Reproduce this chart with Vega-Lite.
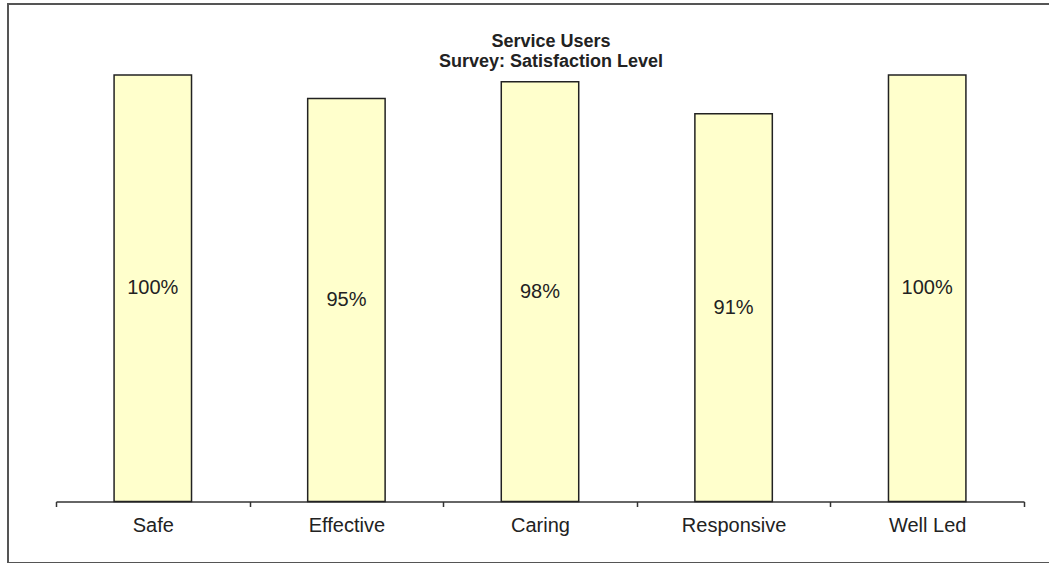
{
  "$schema": "https://vega.github.io/schema/vega-lite/v6.json",
  "autosize": "none",
  "width": 1043,
  "height": 559,
  "padding": {"left": 8, "top": 4, "right": 0, "bottom": 0},
  "background": "white",
  "config": {
    "font": "Liberation Sans",
    "view": {"stroke": "#555555", "strokeWidth": 2}
  },
  "title": {
    "text": ["Service Users", "Survey: Satisfaction Level"],
    "fontSize": 18,
    "fontWeight": "bold",
    "color": "#222222",
    "lineHeight": 20,
    "anchor": "start",
    "frame": "group",
    "baseline": "top",
    "offset": -27,
    "dx": 543,
    "dy": 40,
    "align": "center"
  },
  "data": {
    "values": [
      {"item": "Safe", "value": 1.0, "label": "100%"},
      {"item": "Effective", "value": 0.945, "label": "95%"},
      {"item": "Caring", "value": 0.984, "label": "98%"},
      {"item": "Responsive", "value": 0.909, "label": "91%"},
      {"item": "Well Led", "value": 1.0, "label": "100%"}
    ]
  },
  "encoding": {
    "x": {
      "field": "item",
      "type": "nominal",
      "sort": null,
      "scale": {"range": [48, 1016], "paddingInner": 0, "paddingOuter": 0},
      "axis": {
        "orient": "bottom",
        "offset": -61.5,
        "title": null,
        "labelAngle": 0,
        "labelFontSize": 20,
        "labelColor": "#222222",
        "labelPadding": 9,
        "tickSize": 5,
        "tickWidth": 1.5,
        "tickColor": "#333333",
        "tickBand": "extent",
        "domainColor": "#333333",
        "domainWidth": 1.5,
        "grid": false
      }
    }
  },
  "layer": [
    {
      "mark": {"type": "bar", "fill": "#FFFFCC", "stroke": "#222222", "strokeWidth": 1.5, "width": {"band": 0.4}},
      "encoding": {
        "y": {"field": "value", "type": "quantitative", "scale": {"domain": [0, 1], "range": [497.5, 71]}, "axis": null}
      }
    },
    {
      "mark": {"type": "text", "fontSize": 20, "color": "#222222"},
      "encoding": {
        "y": {"field": "value", "type": "quantitative", "scale": {"domain": [0, 1], "range": [497.5, 284.25]}, "axis": null},
        "text": {"field": "label"}
      }
    }
  ],
  "resolve": {"scale": {"y": "independent"}}
}
